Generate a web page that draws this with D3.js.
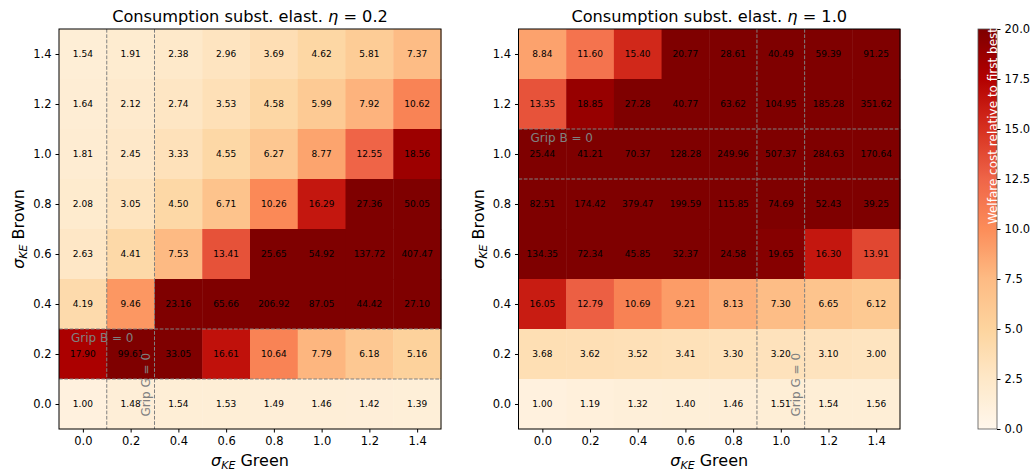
<!DOCTYPE html>
<html>
<head>
<meta charset="utf-8">
<script src="https://cdn.jsdelivr.net/npm/d3@7"></script>
<style>
  body { margin: 0; background: #fff; }
  svg { font-family: "DejaVu Sans", sans-serif; }
</style>
</head>
<body>
<svg id="svg" width="1036" height="472"></svg>
<script>
// sigma_KE values on both axes
const sigmaGreen = [0, 0.2, 0.4, 0.6, 0.8, 1.0, 1.2, 1.4]
const sigmaBrown = [1.4, 1.2, 1.0, 0.8, 0.6, 0.4, 0.2, 0.0]

// welfare cost, rows from sigmaBrown 1.4 (top) down to 0.0
const costEta02 = [
  [1.54, 1.91, 2.38, 2.96, 3.69, 4.62, 5.81, 7.37],
  [1.64, 2.12, 2.74, 3.53, 4.58, 5.99, 7.92, 10.62],
  [1.81, 2.45, 3.33, 4.55, 6.27, 8.77, 12.55, 18.56],
  [2.08, 3.05, 4.50, 6.71, 10.26, 16.29, 27.36, 50.05],
  [2.63, 4.41, 7.53, 13.41, 25.65, 54.92, 137.72, 407.47],
  [4.19, 9.46, 23.16, 65.66, 206.92, 87.05, 44.42, 27.10],
  [17.90, 99.61, 33.05, 16.61, 10.64, 7.79, 6.18, 5.16],
  [1.00, 1.48, 1.54, 1.53, 1.49, 1.46, 1.42, 1.39]
]
const costEta10 = [
  [8.84, 11.60, 15.40, 20.77, 28.61, 40.49, 59.39, 91.25],
  [13.35, 18.85, 27.28, 40.77, 63.62, 104.95, 185.28, 351.62],
  [25.44, 41.21, 70.37, 128.28, 249.96, 507.37, 284.63, 170.64],
  [82.51, 174.42, 379.47, 199.59, 115.85, 74.69, 52.43, 39.25],
  [134.35, 72.34, 45.85, 32.37, 24.58, 19.65, 16.30, 13.91],
  [16.05, 12.79, 10.69, 9.21, 8.13, 7.30, 6.65, 6.12],
  [3.68, 3.62, 3.52, 3.41, 3.30, 3.20, 3.10, 3.00],
  [1.00, 1.19, 1.32, 1.40, 1.46, 1.51, 1.54, 1.56]
]

const etaValues = ['0.2', '1.0']
const gripG = [0.2, 1.0] // vertical dashed band per panel
const gripB = [0.2, 1.0] // horizontal dashed band per panel
const cbarTicks = [0, 2.5, 5, 7.5, 10, 12.5, 15, 17.5, 20]

// OrRd, piecewise linear like matplotlib
const orrd = ['#fff7ec', '#fee8c8', '#fdd49e', '#fdbb84', '#fc8d59', '#ef6548', '#d7301f', '#b30000', '#7f0000']
const color = d3.scaleLinear()
  .domain(d3.range(9).map(i => i * 20 / 8))
  .range(orrd)
  .clamp(true)

const svg = d3.select('#svg')
const panels = [
  { data: costEta02, x0: 59, x1: 441 },
  { data: costEta10, x0: 518.5, x1: 900 }
]
const plotTop = 29, plotBottom = 429

panels.forEach((p, k) => {
  const x = d3.scaleLinear().domain([-0.1, 1.5]).range([p.x0, p.x1])
  const y = d3.scaleLinear().domain([-0.1, 1.5]).range([plotBottom, plotTop])
  const g = svg.append('g')

  const cells = []
  p.data.forEach((row, i) => row.forEach((v, j) => cells.push({ gx: sigmaGreen[j], by: sigmaBrown[i], v })))

  g.selectAll('rect.cell').data(cells).join('rect')
    .attr('x', d => x(d.gx - 0.1))
    .attr('y', d => y(d.by + 0.1))
    .attr('width', d => x(d.gx + 0.1) - x(d.gx - 0.1) + 0.5)
    .attr('height', d => y(d.by - 0.1) - y(d.by + 0.1) + 0.5)
    .attr('fill', d => color(d.v))

  g.selectAll('text.val').data(cells).join('text')
    .attr('x', d => x(d.gx))
    .attr('y', d => y(d.by))
    .attr('dy', '0.35em')
    .attr('text-anchor', 'middle')
    .attr('font-size', 9)
    .attr('fill', '#000')
    .text(d => d.v.toFixed(2))

  // dashed grip lines
  const dash = '3.7,1.6'
  ;[gripG[k] - 0.1, gripG[k] + 0.1].forEach(v => {
    g.append('line')
      .attr('x1', x(v)).attr('x2', x(v))
      .attr('y1', plotTop).attr('y2', plotBottom)
      .attr('stroke', 'gray').attr('stroke-dasharray', dash)
  })
  ;[gripB[k] - 0.1, gripB[k] + 0.1].forEach(v => {
    g.append('line')
      .attr('x1', p.x0).attr('x2', p.x1)
      .attr('y1', y(v)).attr('y2', y(v))
      .attr('stroke', 'gray').attr('stroke-dasharray', dash)
  })
  g.append('text')
    .attr('x', x(-0.05)).attr('y', y(gripB[k] + 0.05))
    .attr('font-size', 12).attr('fill', 'gray')
    .text('Grip B = 0')
  g.append('text')
    .attr('transform', `translate(${x(gripG[k] + 0.08)},${y(-0.05)}) rotate(-90)`)
    .attr('font-size', 12).attr('fill', 'gray')
    .text('Grip G = 0')

  // axes
  const fmt = d3.format('.1f')
  g.append('g')
    .attr('transform', `translate(0,${plotBottom})`)
    .call(d3.axisBottom(x).tickValues(sigmaGreen).tickFormat(fmt).tickSizeOuter(0).tickSize(3.5).tickPadding(4))
  g.append('g')
    .attr('transform', `translate(${p.x0},0)`)
    .call(d3.axisLeft(y).tickValues(sigmaGreen).tickFormat(fmt).tickSizeOuter(0).tickSize(3.5).tickPadding(4))
  g.selectAll('.tick text').attr('font-size', 11.5).attr('font-family', 'DejaVu Sans')
  g.selectAll('.domain').remove()
  g.append('rect')
    .attr('x', p.x0).attr('y', plotTop)
    .attr('width', p.x1 - p.x0).attr('height', plotBottom - plotTop)
    .attr('fill', 'none').attr('stroke', '#000').attr('stroke-width', 1)

  // title
  const t = g.append('text')
    .attr('x', (p.x0 + p.x1) / 2).attr('y', 22)
    .attr('text-anchor', 'middle').attr('font-size', 16.2)
  t.append('tspan').text('Consumption subst. elast. ')
  t.append('tspan').attr('font-style', 'italic').text('η')
  t.append('tspan').text(' = ' + etaValues[k])

  // axis labels
  const xl = g.append('text')
    .attr('x', (p.x0 + p.x1) / 2).attr('y', 466)
    .attr('text-anchor', 'middle').attr('font-size', 16)
  xl.append('tspan').attr('font-style', 'italic').text('σ')
  xl.append('tspan').attr('font-style', 'italic').attr('font-size', 11).attr('dy', 3).text('KE')
  xl.append('tspan').attr('dy', -3).text(' Green')

  const yl = g.append('text')
    .attr('transform', `translate(${p.x0 - 35},${(plotTop + plotBottom) / 2}) rotate(-90)`)
    .attr('text-anchor', 'middle').attr('font-size', 16)
  yl.append('tspan').attr('font-style', 'italic').text('σ')
  yl.append('tspan').attr('font-style', 'italic').attr('font-size', 11).attr('dy', 3).text('KE')
  yl.append('tspan').attr('dy', -3).text(' Brown')
})

// colorbar
const cb = { x0: 978, x1: 997 }
const cy = d3.scaleLinear().domain([0, 20]).range([plotBottom, plotTop])
const defs = svg.append('defs')
const grad = defs.append('linearGradient')
  .attr('id', 'cbgrad').attr('x1', 0).attr('x2', 0).attr('y1', 1).attr('y2', 0)
grad.selectAll('stop').data(d3.range(0, 20.01, 0.5)).join('stop')
  .attr('offset', d => d / 20)
  .attr('stop-color', d => color(d))
svg.append('rect')
  .attr('x', cb.x0).attr('y', plotTop)
  .attr('width', cb.x1 - cb.x0).attr('height', plotBottom - plotTop)
  .attr('fill', 'url(#cbgrad)')
  .attr('stroke', '#555').attr('stroke-width', 0.8)
const cba = svg.append('g')
  .attr('transform', `translate(${cb.x1},0)`)
  .call(d3.axisRight(cy).tickValues(cbarTicks).tickFormat(d3.format('.1f')).tickSize(3.5).tickPadding(4).tickSizeOuter(0))
cba.select('.domain').remove()
cba.selectAll('.tick text').attr('font-size', 11.5).attr('font-family', 'DejaVu Sans')
svg.append('text')
  .attr('transform', `translate(${cb.x1},${plotTop - 1}) rotate(-90)`)
  .attr('text-anchor', 'end').attr('font-size', 12).attr('fill', '#fff')
  .text('Welfare cost relative to first best')
</script>
</body>
</html>
